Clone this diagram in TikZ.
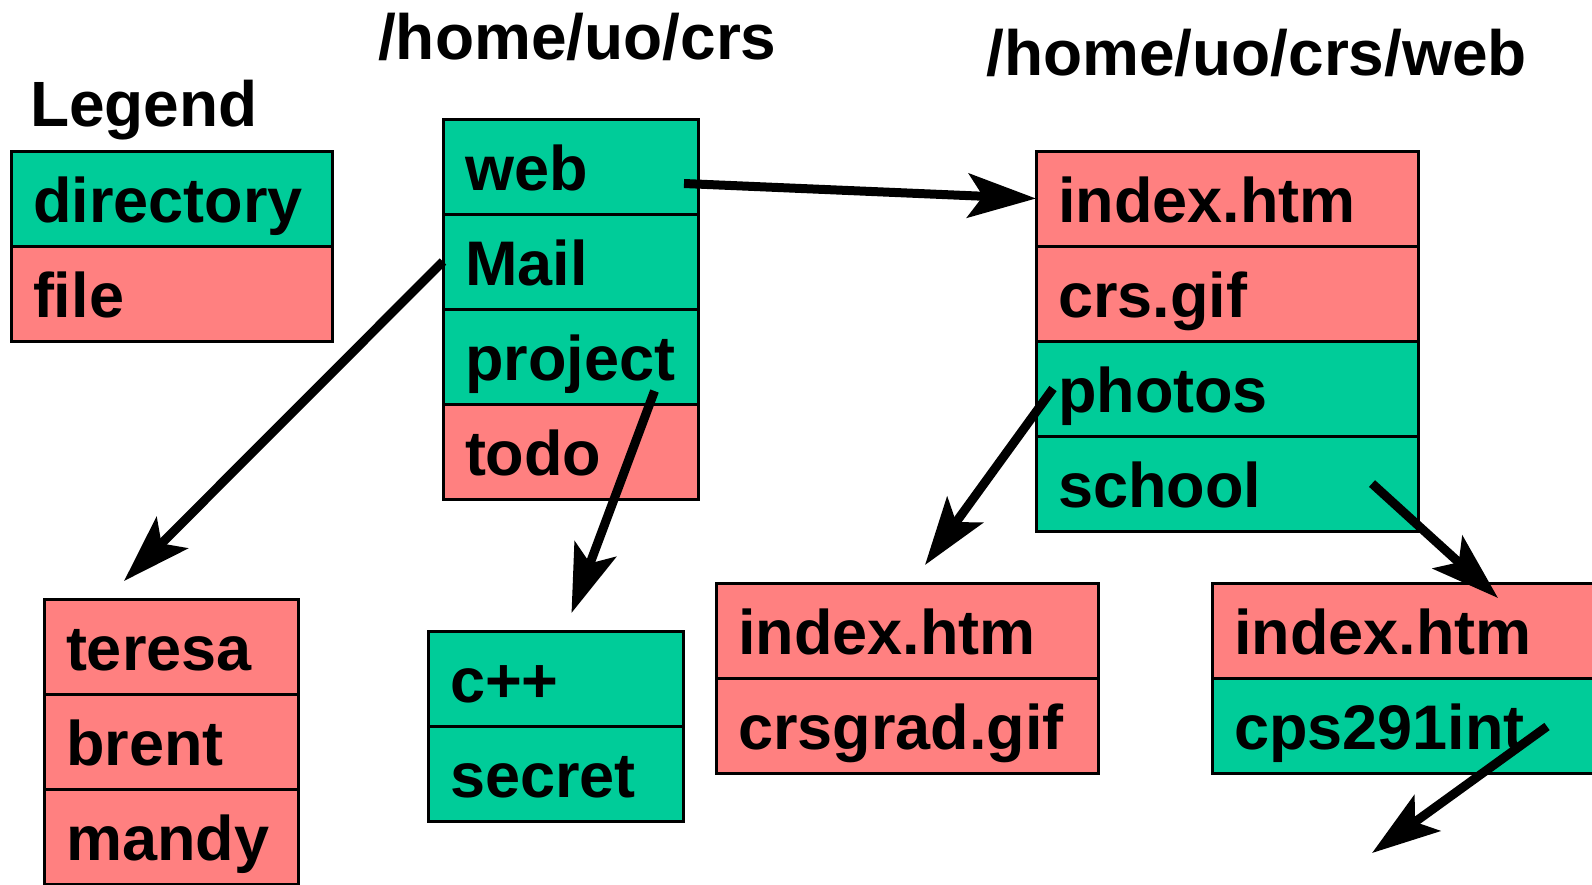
\documentclass[tikz,border=0pt]{standalone}
\usepackage{fontspec}
\setmainfont{Liberation Sans}
\usetikzlibrary{positioning,arrows.meta}

\definecolor{dirgreen}{RGB}{0,204,153}
\definecolor{filepink}{RGB}{255,128,128}

\tikzset{
  row/.style={draw=black,line width=3pt,outer sep=0pt,inner xsep=22pt,inner ysep=0pt,
    text height=71pt,text depth=24pt,align=left,anchor=north west,
    font=\fontsize{63pt}{70pt}\selectfont\bfseries},
  dirrow/.style={row,fill=dirgreen,text width=#1},
  filerow/.style={row,fill=filepink,text width=#1},
  heading/.style={anchor=base west,inner sep=0pt,font=\fontsize{64pt}{70pt}\selectfont\bfseries},
  link/.style={line width=9pt,-{Stealth[length=68pt,width=44pt,inset=15pt]}}
}

\begin{document}
\begin{tikzpicture}[x=1pt,y=-1pt]
        \useasboundingbox (0,0) rectangle (1592,884);
        % headings
        \node[heading] (legendtitle) at (30,126) {Legend};
        \node[heading] (crstitle) at (378,59) {/home/uo/crs};
        \node[heading] (webtitle) at (986,75) {/home/uo/crs/web};
        % legend
        \node[dirrow=277pt] (legdir) at (11,151) {directory};
        \node[filerow=277pt,below=0pt of legdir] (legfile) {file};
        % /home/uo/crs
        \node[dirrow=211pt] (web) at (443,119) {web};
        \node[dirrow=211pt,below=0pt of web] (mail) {Mail};
        \node[dirrow=211pt,below=0pt of mail] (project) {project};
        \node[filerow=211pt,below=0pt of project] (todo) {todo};
        % /home/uo/crs/web
        \node[filerow=338pt] (webindex) at (1036,151) {index.htm};
        \node[filerow=338pt,below=0pt of webindex] (crsgif) {crs.gif};
        \node[dirrow=338pt,below=0pt of crsgif] (photos) {photos};
        \node[dirrow=338pt,below=0pt of photos] (school) {school};
        % Mail
        \node[filerow=210pt] (teresa) at (44,599) {teresa};
        \node[filerow=210pt,below=0pt of teresa] (brent) {brent};
        \node[filerow=210pt,below=0pt of brent] (mandy) {mandy};
        % project
        \node[dirrow=211pt] (cpp) at (428,631) {c++};
        \node[dirrow=211pt,below=0pt of cpp] (secret) {secret};
        % photos
        \node[filerow=338pt] (photoindex) at (716,583) {index.htm};
        \node[filerow=338pt,below=0pt of photoindex] (crsgrad) {crsgrad.gif};
        % school
        \node[filerow=356pt] (schoolindex) at (1212,583) {index.htm};
        \node[dirrow=356pt,below=0pt of schoolindex] (cps) {cps291int};
        \coordinate (cpsend) at (1372,853);
        % links
        \draw[link] ([xshift=-14pt,yshift=-17pt]web.east) -- (webindex.west);
        \draw[link] (mail.west) -- ([xshift=-47pt,yshift=18pt]teresa.north);
        \draw[link] ([xshift=84pt,yshift=13pt]project.south) -- ([xshift=16pt,yshift=18pt]cpp.north);
        \draw[link] ([xshift=17pt]photos.west) -- ([xshift=18pt,yshift=18pt]photoindex.north);
        \draw[link] ([xshift=-46pt]school.east) -- ([xshift=86pt,yshift=-15pt]schoolindex.north);
        \draw[link] ([xshift=-65pt,yshift=-1pt]cps.east) -- (cpsend);
      \end{tikzpicture}
\end{document}
